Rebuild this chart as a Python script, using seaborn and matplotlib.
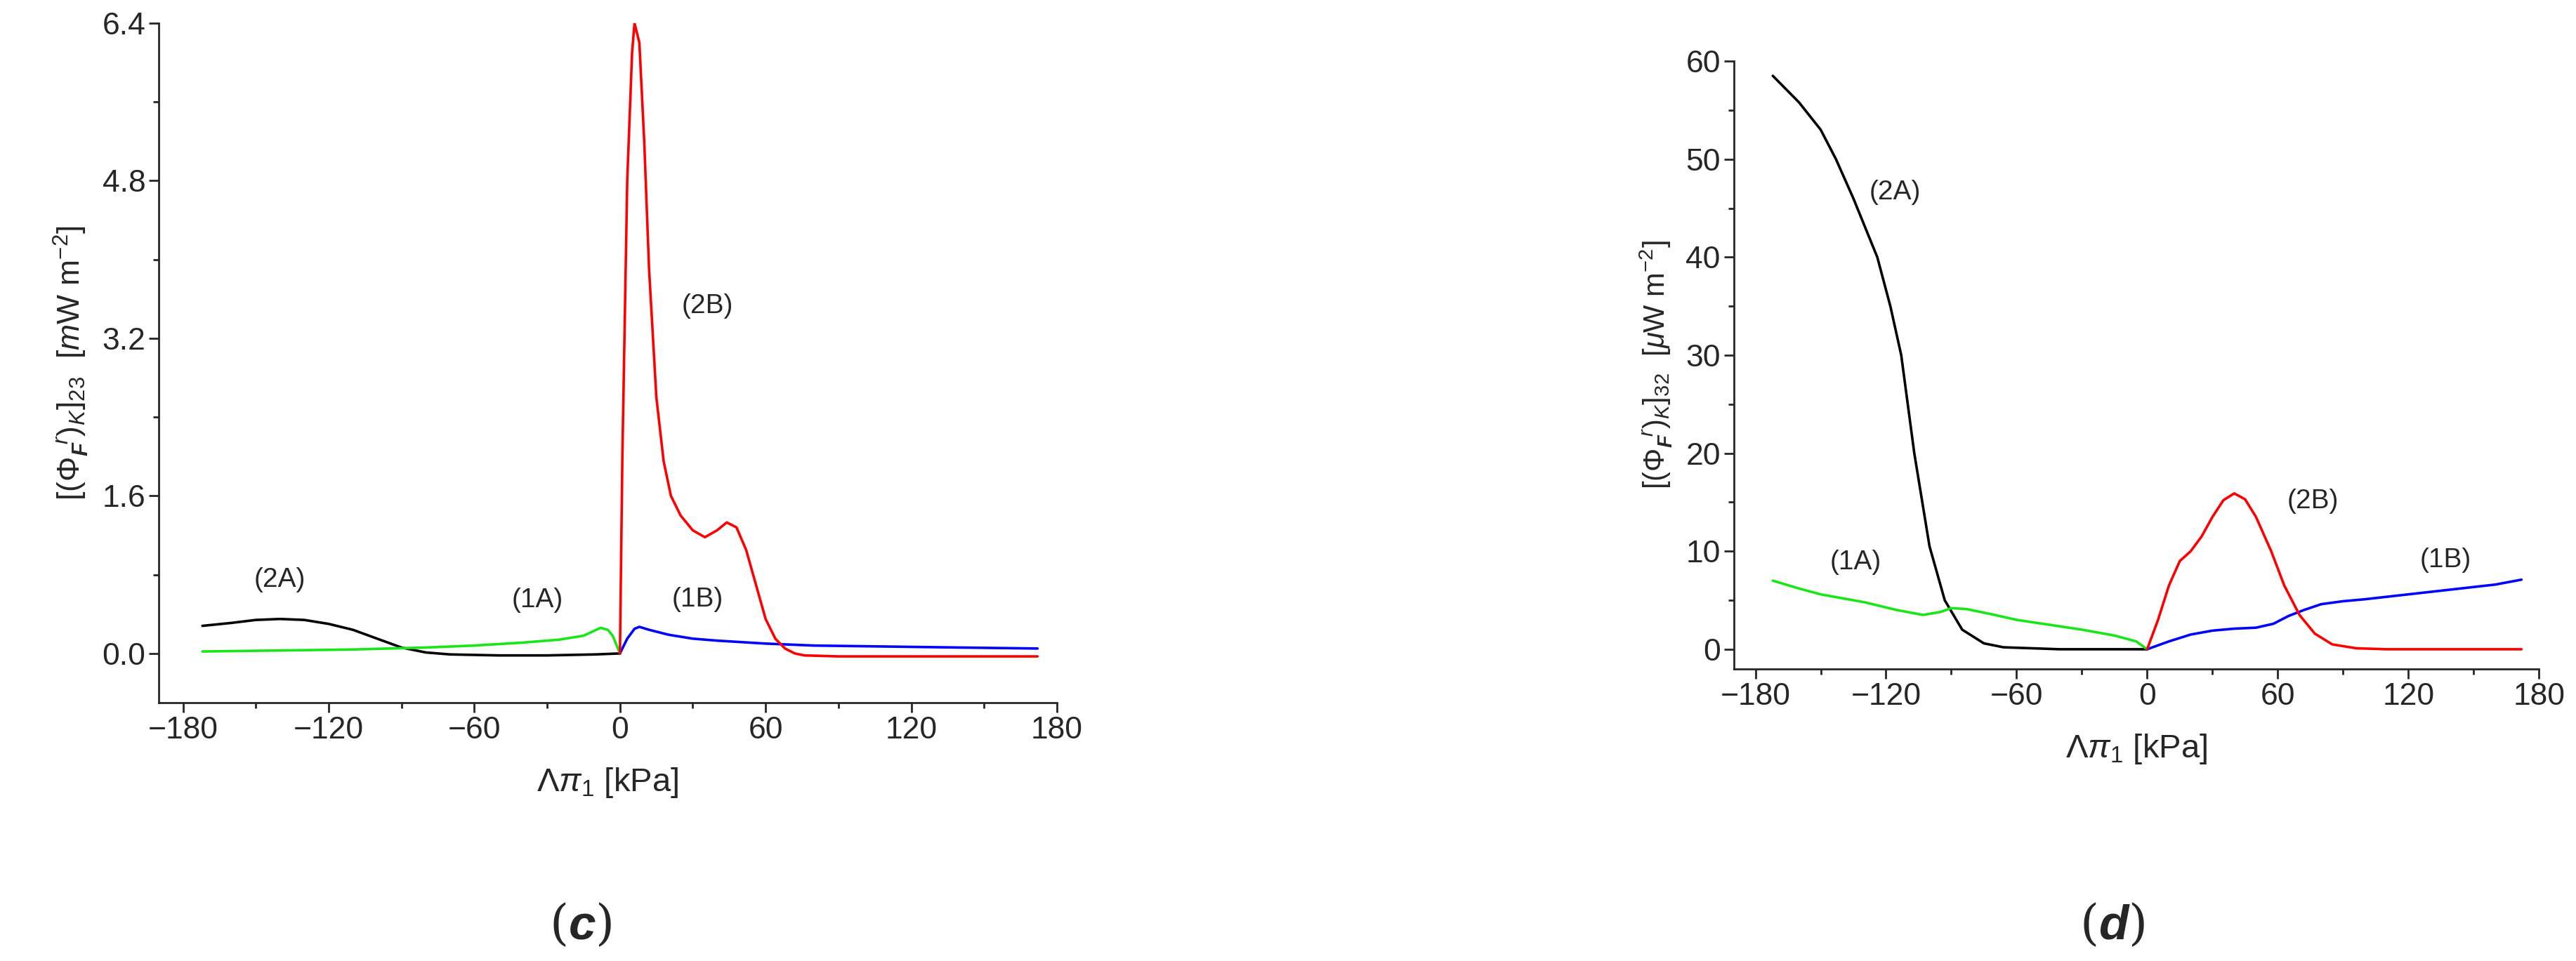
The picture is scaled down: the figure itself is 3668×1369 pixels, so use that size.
import numpy as np
import pandas as pd
import seaborn as sns
import matplotlib.pyplot as plt

sns.set_style("ticks")
plt.rcParams['font.family'] = ['Liberation Sans', 'DejaVu Sans']
plt.rcParams['mathtext.fontset'] = 'custom'
plt.rcParams['mathtext.rm'] = 'Liberation Sans'
plt.rcParams['mathtext.it'] = 'Liberation Sans:italic'
plt.rcParams['mathtext.bf'] = 'Liberation Sans:bold:italic'

# panel (c)
c_2A_x = [-172, -160, -150, -140, -130, -120, -110, -100, -90, -80, -70, -50, -30, -10, 0]
c_2A_y = [0.28, 0.31, 0.34, 0.35, 0.34, 0.30, 0.24, 0.15, 0.06, 0.01, -0.01, -0.02, -0.02, -0.01, 0.0]
c_1A_x = [-172, -140, -110, -80, -60, -40, -25, -15, -8, -5, -3, 0]
c_1A_y = [0.02, 0.03, 0.04, 0.06, 0.08, 0.11, 0.14, 0.18, 0.26, 0.24, 0.18, 0.0]
c_2B_x = [0, 1, 3, 5, 6, 8, 10, 12, 15, 18, 21, 25, 30, 35, 40, 44, 48, 52, 56, 60, 64, 68, 72, 76, 90, 120, 150, 172]
c_2B_y = [0.0, 2.0, 4.8, 6.1, 6.4, 6.2, 5.2, 3.9, 2.6, 1.95, 1.6, 1.4, 1.25, 1.18, 1.25, 1.33, 1.28, 1.05, 0.7, 0.35, 0.15, 0.05, 0.0, -0.02, -0.03, -0.03, -0.03, -0.03]
c_1B_x = [0, 3, 6, 8, 12, 20, 30, 40, 60, 80, 110, 140, 172]
c_1B_y = [0.0, 0.15, 0.25, 0.27, 0.24, 0.19, 0.15, 0.13, 0.10, 0.08, 0.07, 0.06, 0.05]

# panel (d)
d_2A_x = [-172, -160, -150, -143, -135, -124, -118, -113, -107, -100, -93, -85, -75, -66, -40, 0]
d_2A_y = [58.5, 55.8, 53, 50, 46, 40, 35, 30, 20, 10.5, 5, 2, 0.6, 0.2, 0.0, 0.0]
d_1A_x = [-172, -160, -150, -130, -115, -103, -95, -90, -83, -70, -60, -45, -30, -15, -5, 0]
d_1A_y = [7.0, 6.2, 5.6, 4.8, 4.0, 3.5, 3.8, 4.2, 4.1, 3.5, 3.0, 2.5, 2.0, 1.4, 0.8, 0.0]
d_2B_x = [0, 5, 10, 15, 20, 25, 30, 35, 40, 45, 50, 57, 63, 70, 77, 85, 96, 110, 140, 172]
d_2B_y = [0.0, 3.0, 6.5, 9.0, 10.0, 11.5, 13.5, 15.2, 15.9, 15.3, 13.5, 10.0, 6.5, 3.5, 1.6, 0.5, 0.1, 0.0, 0.0, 0.0]
d_1B_x = [0, 10, 20, 30, 40, 50, 58, 65, 72, 80, 90, 100, 120, 140, 160, 172]
d_1B_y = [0.0, 0.8, 1.5, 1.9, 2.1, 2.2, 2.6, 3.4, 4.0, 4.6, 4.9, 5.1, 5.6, 6.1, 6.6, 7.1]

xticks = [-180, -120, -60, 0, 60, 120, 180]

fig = plt.figure(figsize=(36.68, 13.69), dpi=100)
ax1 = fig.add_axes([0.0616, 0.2688, 0.3487, 0.7072])
ax2 = fig.add_axes([0.673, 0.304, 0.3126, 0.6324])

def draw(ax, series):
    for xs, ys, col in series:
        df = pd.DataFrame({'x': xs, 'y': ys})
        sns.lineplot(data=df, x='x', y='y', ax=ax, color=col, lw=2.6, sort=False, estimator=None)

green = '#19e619'
draw(ax1, [(c_2A_x, c_2A_y, 'black'), (c_1A_x, c_1A_y, green), (c_1B_x, c_1B_y, 'blue'), (c_2B_x, c_2B_y, 'red')])
draw(ax2, [(d_2A_x, d_2A_y, 'black'), (d_1A_x, d_1A_y, green), (d_1B_x, d_1B_y, 'blue'), (d_2B_x, d_2B_y, 'red')])

for ax in (ax1, ax2):
    ax.set_xlim(-190, 180)
    ax.set_xticks(xticks)
    ax.set_xticks([-150, -90, -30, 30, 90, 150], minor=True)
    ax.tick_params(axis='both', which='major', labelsize=32, length=10, width=2, direction='out')
    ax.tick_params(axis='both', which='minor', length=6, width=2, direction='out')
    for s in ('top', 'right'):
        ax.spines[s].set_visible(False)
    for s in ('left', 'bottom'):
        ax.spines[s].set_linewidth(2)
    ax.set_xlabel(r'$\Lambda\pi_{\mathrm{1}}$ [kPa]', fontsize=34, labelpad=22)

ax1.set_ylim(-0.5, 6.4)
ax1.set_yticks([0.0, 1.6, 3.2, 4.8, 6.4])
ax1.set_yticks([0.8, 2.4, 4.0, 5.6], minor=True)
ax1.set_yticklabels(['0.0', '1.6', '3.2', '4.8', '6.4'])
ax1.set_ylabel(r"$[(\mathit{\Phi}_{\mathbf{F}}^{\ \ r})_{K}]_{23}$  $[\mathit{m}\mathrm{W\ m}^{-2}]$", fontsize=32, labelpad=12)

ax2.set_ylim(-2.0, 60)
ax2.set_yticks([0, 10, 20, 30, 40, 50, 60])
ax2.set_yticks([5, 15, 25, 35, 45, 55], minor=True)
ax2.set_ylabel(r"$[(\mathit{\Phi}_{\mathbf{F}}^{\ \ r})_{K}]_{32}$  $[\mu\mathrm{W\ m}^{-2}]$", fontsize=30, labelpad=12)

ann = dict(fontsize=28, ha='center', va='center')
ax1.text(-140, 0.75, '(2A)', **ann)
ax1.text(-34, 0.54, '(1A)', **ann)
ax1.text(36, 3.53, '(2B)', **ann)
ax1.text(32, 0.55, '(1B)', **ann)
ax2.text(-116, 46.6, '(2A)', **ann)
ax2.text(-134, 8.9, '(1A)', **ann)
ax2.text(76, 15.1, '(2B)', **ann)
ax2.text(137, 9.1, '(1B)', **ann)

fig.text(827 / 3668, 1 - 1318 / 1369, r'($\mathbf{c}$)', ha='center', va='center', fontsize=50, family='DejaVu Serif')
fig.text(3008 / 3668, 1 - 1318 / 1369, r'($\mathbf{d}$)', ha='center', va='center', fontsize=50, family='DejaVu Serif')

fig.savefig('out.png', dpi=100)
